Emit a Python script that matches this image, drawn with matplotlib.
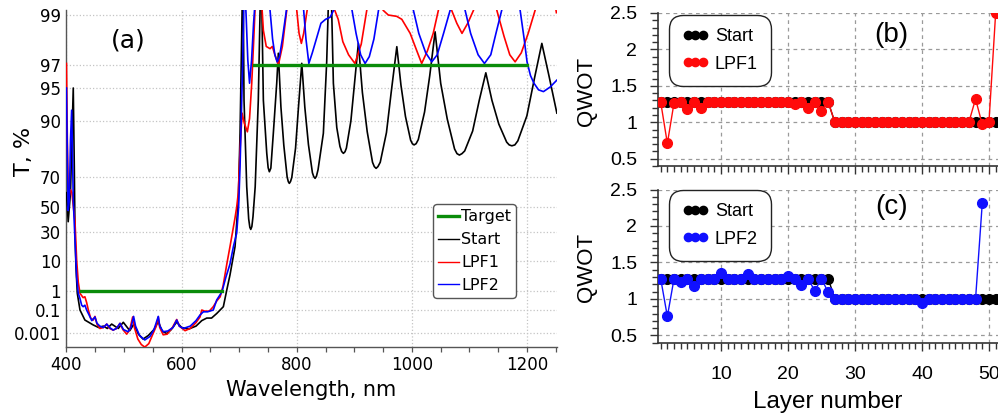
import numpy as np
import matplotlib
matplotlib.use('Agg')
import matplotlib.pyplot as plt
from matplotlib.ticker import MultipleLocator, NullLocator, FixedLocator, FormatStrFormatter
from matplotlib.lines import Line2D

# ---------------- data: panel (a), transmittance spectra (wavelength nm, T %)
target_stop_wl = [425, 670]
target_stop_t = [1, 1]
target_pass_wl = [725, 1200]
target_pass_t = [97, 97]

start_pts = [
    (400, 60), (403, 37.8), (407, 60), (411.8, 95), (413.6, 74.9), (414.8, 28.7),
    (416.5, 6.6), (418.8, 0.76), (423.5, 0.1), (432, 0.0135), (446.6, 0.005),
    (456, 0.003), (464, 0.004), (471, 0.0025), (478.5, 0.006), (490, 0.0025),
    (498.7, 0.0086), (510, 0.0016), (517, 0.006), (525, 0.0008), (533, 0.0003),
    (542, 0.0006), (552, 0.002), (559.5, 0.01), (566, 0.0015), (574, 0.0009),
    (582, 0.002), (591.5, 0.009), (600, 0.003), (612, 0.0022), (625, 0.004),
    (635, 0.012), (643.6, 0.02), (652, 0.02), (661, 0.05), (672.5, 0.15),
    (678.5, 1.1), (684, 3.5), (692.8, 17.8), (698.5, 55), (701.5, 87),
    (704.4, 98.5), (706.5, 99.7), (708.4, 93.5), (713.1, 63.9), (716.5, 40),
    (718.5, 33.5), (720.1, 31.9), (722, 34), (724, 42), (727.8, 63.9),
    (733.2, 93.5), (738, 99.7), (742, 93.5), (747.9, 80.5), (750.3, 74.5),
    (752.4, 72.6), (755, 74.3), (759.3, 87), (765.2, 95.5), (768, 97.68),
    (772.5, 92.5), (777.5, 83.4), (783.3, 70), (785.3, 67.2), (787.1, 66.1),
    (789.2, 67.3), (791.4, 69.8), (797.9, 82.4), (803, 92.5), (808.7, 97.11),
    (814, 92.5), (820.3, 83.6), (827.2, 72.1), (829.5, 70.2), (831.8, 69.2),
    (834.2, 70.4), (837, 73.6), (846.2, 87), (852, 97.2), (858, 99.8),
    (863.6, 95.5), (869.5, 88.5), (875, 83), (878, 81.2), (881, 80.5),
    (883.8, 81.1), (886.2, 82.4), (894, 90), (900, 95.3), (907, 98.13),
    (914, 94.5), (922.4, 87.4), (931.6, 76.9), (934.7, 75), (937.8, 74.2),
    (941, 75), (945, 76.9), (955.8, 87.2), (964, 94.5), (973.8, 97.99),
    (981, 95.3), (988.8, 90.9), (997.8, 85.0), (1000.8, 83.9), (1003.8, 83.5),
    (1007.3, 83.9), (1011.1, 85.2), (1022, 91.7), (1031, 96.2), (1040.3, 98.55),
    (1050, 95.5), (1061.4, 90.4), (1074.1, 82.1), (1078.3, 80.4), (1082.5, 79.85),
    (1087, 80.4), (1091.7, 81.4), (1105.5, 87.6), (1117, 93.5), (1128.4, 96.43),
    (1139, 93.5), (1151, 89.3), (1164.6, 84.4), (1169, 83.5), (1173.6, 83.2),
    (1178.8, 83.5), (1184, 84.8), (1199.7, 91.0), (1213, 96), (1225.7, 98.13),
    (1238, 96.2), (1251.8, 91.5),
]

lpf1_pts = [
    (400, 97.1), (401.5, 85), (403, 64), (405, 58), (407, 62), (409.5, 60),
    (412, 50), (414.8, 38), (417.7, 10.4), (420.5, 2), (423.5, 0.76), (429, 0.45),
    (432, 0.5), (435, 0.25), (438, 0.1), (442, 0.02), (446.6, 0.0135),
    (449.5, 0.028), (453, 0.006), (458, 0.0025), (464, 0.003), (470, 0.006),
    (475, 0.0025), (481, 0.0018), (487, 0.0025), (493, 0.007), (498, 0.002),
    (504.6, 0.0008), (510, 0.002), (515, 0.025), (518, 0.003), (524, 0.0003),
    (530, 0.0001), (536, 0.00006), (543, 0.00012), (550, 0.0008), (556, 0.004),
    (559.5, 0.025), (562, 0.003), (568, 0.0007), (575, 0.0008), (584, 0.003),
    (591.5, 0.015), (596, 0.004), (606, 0.0016), (615, 0.0025), (625, 0.008),
    (632, 0.025), (635, 0.1), (640, 0.08), (648, 0.08), (655, 0.15), (661, 0.3),
    (667, 0.5), (672, 1.5), (678.5, 8), (684, 17.8), (692.8, 41), (695.7, 50),
    (698.5, 60), (701.5, 81.7), (705, 91.5), (709, 89.5), (714.2, 87.4),
    (718, 90.5), (721.8, 95.5), (726, 98.6), (731, 99.7), (737, 99.5),
    (742, 98.6), (747, 98.0), (753.6, 97.9), (757.6, 98.0), (762, 97.6),
    (768, 97.0), (775, 98.0), (782.6, 99.1), (791, 99.8), (800, 99.1),
    (804, 98.5), (808, 98.13), (812, 98.5), (818, 99.1), (842, 99.8),
    (866, 99.1), (872, 98.9), (880, 98.2), (890, 97.6), (901, 97.1),
    (912, 98.1), (921.6, 99.1), (935, 99.8), (950, 99.1), (959, 99.0),
    (973.7, 98.97), (982.5, 98.9), (997, 98.5), (1008.5, 97.8), (1017, 97.1),
    (1027, 97.8), (1037, 98.5), (1046, 99.1), (1057, 99.8), (1069, 99.1),
    (1078, 98.8), (1087, 98.5), (1097, 98.8), (1107, 99.1), (1127, 99.8),
    (1147.5, 99.1), (1160, 98.4), (1170, 97.6), (1179.3, 97.2), (1190, 97.7),
    (1202, 98.5), (1214, 99.1), (1232, 99.8), (1251, 99.05),
]

lpf2_pts = [
    (400, 95), (401.5, 80), (403, 47), (405, 55), (407, 85), (409, 92),
    (410.5, 80), (411.8, 55), (414.8, 22.8), (417.7, 3), (420.5, 0.76),
    (423.5, 0.4), (426.4, 0.18), (429, 0.15), (432, 0.18), (435, 0.1),
    (438, 0.05), (444, 0.012), (449.5, 0.025), (453, 0.007), (458, 0.004),
    (464, 0.003), (470, 0.006), (475, 0.003), (481, 0.0018), (487, 0.0025),
    (493, 0.007), (499, 0.002), (507, 0.0013), (512, 0.003), (516.6, 0.028),
    (520, 0.004), (527, 0.0006), (536, 0.00025), (545, 0.0005), (552, 0.002),
    (559.5, 0.028), (562, 0.004), (568, 0.0013), (576, 0.0015), (585, 0.003),
    (591.5, 0.0135), (596, 0.004), (603, 0.0025), (615, 0.004), (625, 0.012),
    (632, 0.037), (637.7, 0.07), (645, 0.07), (655, 0.1), (661, 0.34),
    (670, 0.9), (677, 3), (684, 8), (690, 18), (695.7, 29), (699, 50),
    (701.5, 75), (704, 92), (706, 97), (708, 99.2), (710, 99.4), (712, 99.0),
    (715, 97.3), (718, 95.5), (721.5, 97.3), (725, 98.8), (728, 99.3),
    (740, 99.8), (753.6, 99.1), (758, 98.3), (762, 97.6), (766, 97.2),
    (770, 97.5), (775, 98.3), (782, 99.1), (800, 99.8), (812, 99.1),
    (816, 98.3), (821, 97.1), (827, 97.7), (834, 98.3), (842, 98.8),
    (850, 98.9), (858, 98.95), (864, 99.1), (880, 99.8), (896, 99.1),
    (903, 98.5), (911, 97.6), (918.7, 97.1), (926, 97.5), (934, 98.3),
    (942, 99.1), (972, 99.8), (1002.6, 99.1), (1012, 98.5), (1024, 97.7),
    (1034.5, 97.2), (1044, 97.6), (1055, 98.5), (1066.4, 99.1), (1079, 99.6),
    (1092.4, 99.1), (1102, 98.5), (1115, 97.6), (1126, 97.1), (1137, 97.6),
    (1146, 98.5), (1156, 99.1), (1172, 99.6), (1188, 99.1), (1195, 98.3),
    (1200, 97.2), (1206, 96.2), (1212, 95.5), (1220, 94.8), (1228.5, 94.6),
    (1240, 95.1), (1251.8, 95.8),
]

t_ticks = [0.001, 0.1, 1, 10, 30, 50, 70, 90, 95, 97, 99]
t_ticklabels = ['0.001', '0.1', '1', '10', '30', '50', '70', '90', '95', '97', '99']

# ---------------- data: panels (b), (c), QWOT per layer
start_layers = list(range(1, 52))
start_qwot = [1.28] * 26 + [1.0] * 25

lpf1_layers = list(range(1, 52))
lpf1_qwot = [1.28, 0.71, 1.27, 1.28, 1.18, 1.28, 1.20, 1.28, 1.28, 1.28,
             1.28, 1.28, 1.28, 1.28, 1.28, 1.28, 1.28, 1.28, 1.28, 1.28,
             1.25, 1.28, 1.20, 1.28, 1.15, 1.28, 1.0, 1.0, 1.0, 1.0,
             1.0, 1.0, 1.0, 1.0, 1.0, 1.0, 1.0, 1.0, 1.0, 1.0,
             1.0, 1.0, 1.0, 1.0, 1.0, 1.0, 1.0, 1.32, 0.97, 1.0, 2.5]

lpf2_layers = list(range(1, 50))
lpf2_qwot = [1.28, 0.76, 1.28, 1.23, 1.28, 1.18, 1.28, 1.28, 1.28, 1.36,
             1.28, 1.28, 1.28, 1.34, 1.28, 1.28, 1.28, 1.28, 1.28, 1.31,
             1.28, 1.19, 1.28, 1.11, 1.28, 1.09, 1.0, 1.0, 1.0, 1.0,
             1.0, 1.0, 1.0, 1.0, 1.0, 1.0, 1.0, 1.0, 1.0, 0.95,
             1.0, 1.0, 1.0, 1.0, 1.0, 1.0, 1.0, 1.0, 2.31]


# ---------------- nonlinear T axis (stretched near 100 %, compressed near 0)
def logit(t):
    p = np.clip(np.asarray(t, dtype=float) / 100.0, 1e-15, 1 - 1e-15)
    return np.log(p / (1 - p))

knot_u = np.r_[-40.0, logit(t_ticks), 15.0]
knot_rows = np.array([333, 310, 291, 261, 232, 207, 177, 121, 88, 65, 15], dtype=float)
knot_d = -np.r_[333 + (40 - 11.513) * 5.0, knot_rows, 15 - (15 - 4.595) * 44.7]


def t_forward(t):
    return np.interp(logit(t), knot_u, knot_d)


def t_inverse(d):
    u = np.interp(d, knot_d, knot_u)
    return 100.0 / (1.0 + np.exp(-u))


fig = plt.figure(figsize=(9.98, 4.19), dpi=100)

# ================= panel (a)
ax = fig.add_axes([0.0666, 0.1718, 0.4915, 0.8043])
ax.set_yscale('function', functions=(t_forward, t_inverse))

s = np.array(start_pts).T
r = np.array(lpf1_pts).T
b = np.array(lpf2_pts).T
ax.plot(s[0], s[1], color='black', lw=1.2, zorder=3)
ax.plot(r[0], r[1], color='#ff0000', lw=1.2, zorder=4)
ax.plot(b[0], b[1], color='#0000ff', lw=1.2, zorder=5)
ax.plot(target_stop_wl, target_stop_t, color='#0a8c0a', lw=2.4, zorder=6)
ax.plot(target_pass_wl, target_pass_t, color='#0a8c0a', lw=2.4, zorder=6)

ax.set_xlim(400, 1252)
ax.set_ylim(6.1e-5, 99.105)
ax.yaxis.set_major_locator(FixedLocator(t_ticks))
ax.yaxis.set_minor_locator(NullLocator())
ax.set_yticklabels(t_ticklabels)
ax.xaxis.set_major_locator(MultipleLocator(200))
ax.xaxis.set_minor_locator(MultipleLocator(50))
ax.grid(True, which='major', linestyle=':', color='#c4c4c4', lw=0.9)
ax.tick_params(axis='y', length=0, pad=4, labelsize=12)
ax.tick_params(axis='x', which='both', direction='out', length=3.5, width=0.9,
               color='#555555', pad=3, labelsize=12)
for side in ['top', 'right']:
    ax.spines[side].set_visible(False)
for side in ['left', 'bottom']:
    ax.spines[side].set_color('#555555')
    ax.spines[side].set_linewidth(1.0)

ax.set_xlabel('Wavelength, nm', fontsize=15)
ax.xaxis.set_label_coords(0.4985, -0.098)
ax.set_ylabel('T, %', fontsize=16)
ax.yaxis.set_label_coords(-0.066, 0.579)
fig.text(0.1283, 0.9045, '(a)', fontsize=18, ha='center', va='center')

handles = [Line2D([], [], color='#0a8c0a', lw=2.4),
           Line2D([], [], color='black', lw=1.0),
           Line2D([], [], color='#ff0000', lw=1.0),
           Line2D([], [], color='#0000ff', lw=1.0)]
leg = ax.legend(handles, ['Target', 'Start', 'LPF1', 'LPF2'], loc='upper left',
                bbox_to_anchor=(0.4339, 0.5131), bbox_transform=fig.transFigure,
                fontsize=11.5, handlelength=1.3, handletextpad=0.15,
                labelspacing=0.5, borderpad=0.32, borderaxespad=0,
                fancybox=True, framealpha=1, edgecolor='#555555')
leg.get_frame().set_linewidth(1.0)
leg.get_frame().set_boxstyle('round', pad=0, rounding_size=0.25)


# ================= panels (b) and (c)
def qwot_panel(rect, layers, qwot, color, name, letter, letter_y, leg_top, show_x):
    axq = fig.add_axes(rect)
    axq.plot(start_layers, start_qwot, '-o', color='black', lw=1.0, ms=7,
             label='Start', zorder=3)
    axq.plot(layers, qwot, '-o', color=color, lw=1.0, ms=7, label=name, zorder=4)
    axq.set_xlim(0.6, 51.35)
    axq.set_ylim(0.4, 2.5)
    axq.xaxis.set_major_locator(MultipleLocator(10))
    axq.xaxis.set_minor_locator(MultipleLocator(1))
    axq.yaxis.set_major_locator(MultipleLocator(0.5))
    axq.yaxis.set_minor_locator(MultipleLocator(0.1))
    axq.yaxis.set_major_formatter(FormatStrFormatter('%g'))
    axq.grid(True, which='major', linestyle=(0, (3, 3)), color='#9a9a9a', lw=0.9)
    axq.tick_params(which='major', direction='out', length=6, width=1.0,
                    color='#333333', labelsize=14, labelfontfamily='Liberation Sans')
    axq.tick_params(which='minor', direction='out', length=4, width=1.0, color='#333333')
    axq.tick_params(axis='y', pad=9)
    axq.tick_params(axis='x', pad=11)
    if not show_x:
        axq.tick_params(axis='x', labelbottom=False)
    for side in ['top', 'right']:
        axq.spines[side].set_visible(False)
    for side in ['left', 'bottom']:
        axq.spines[side].set_color('#333333')
        axq.spines[side].set_linewidth(1.2)
    axq.set_ylabel('QWOT', fontsize=16, family='Liberation Sans')
    axq.yaxis.set_label_coords(-0.178, 0.49)
    fig.text(0.8935, letter_y, letter, fontsize=20, family='Liberation Sans',
             ha='center', va='center')
    lg = axq.legend(loc='upper left', bbox_to_anchor=(0.6703, leg_top),
                    bbox_transform=fig.transFigure, numpoints=3,
                    prop={'family': 'Liberation Sans', 'size': 13},
                    handlelength=1.45, handletextpad=0.35, labelspacing=0.57,
                    borderpad=0.74, borderaxespad=0, framealpha=1,
                    edgecolor='#222222', fancybox=True, markerscale=0.85)
    lg.get_frame().set_linewidth(1.0)
    lg.get_frame().set_boxstyle('round', pad=0, rounding_size=0.8)
    return axq


qwot_panel([0.6593, 0.6038, 0.3407, 0.3652], lpf1_layers, lpf1_qwot, '#ff0a0a',
           'LPF1', '(b)', 0.9165, 0.9642, False)
axc = qwot_panel([0.6593, 0.1821, 0.3407, 0.3656], lpf2_layers, lpf2_qwot, '#1010ff',
                 'LPF2', '(c)', 0.506, 0.5465, True)
axc.set_xlabel('Layer number', fontsize=17.5, family='Liberation Sans')
axc.xaxis.set_label_coords(0.4985, -0.315)

fig.savefig('out.png', dpi=100)
